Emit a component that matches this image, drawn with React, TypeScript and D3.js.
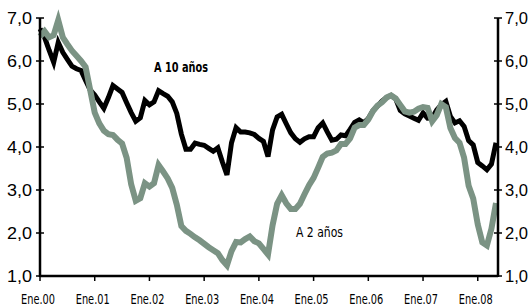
import React from "react";
import * as d3 from "d3";

const tenYear = [
  6.75, 6.55, 6.25, 5.97, 6.43, 6.2, 6.04, 5.88, 5.82, 5.78,
  5.55, 5.33, 5.21, 5.05, 4.9, 5.15, 5.43, 5.35, 5.27, 5.03,
  4.8, 4.6, 4.68, 5.08, 4.98, 5.05, 5.31, 5.24, 5.18, 5.05,
  4.78, 4.3, 3.95, 3.95, 4.09, 4.06, 4.04, 3.97, 3.9, 3.98,
  3.65, 3.35, 4.1, 4.45, 4.35, 4.35, 4.33, 4.29, 4.2, 4.13,
  3.78, 4.4, 4.7, 4.76, 4.54, 4.33, 4.19, 4.11, 4.19, 4.24,
  4.24, 4.45, 4.56, 4.35, 4.16, 4.18, 4.28, 4.26, 4.41, 4.57,
  4.63, 4.56, 4.66, 4.84, 4.95, 5.07, 5.15, 5.2, 5.12, 4.85,
  4.77, 4.72, 4.67, 4.62, 4.79, 4.67, 4.68, 4.86, 4.98, 5.06,
  4.71, 4.56, 4.61, 4.48, 4.15, 4.05, 3.64, 3.56, 3.47, 3.6,
  4.1,
];

const twoYear = [
  6.57, 6.69, 6.55, 6.6, 6.95, 6.55, 6.39, 6.24, 6.12, 6.0,
  5.86, 5.33, 4.8, 4.55, 4.38, 4.3, 4.28, 4.17, 4.08, 3.75,
  3.13, 2.75, 2.81, 3.16, 3.08, 3.16, 3.58, 3.43, 3.27, 3.05,
  2.66, 2.16, 2.05, 1.98, 1.9, 1.83, 1.75, 1.67, 1.6, 1.53,
  1.37, 1.25, 1.58, 1.79, 1.78, 1.86, 1.92, 1.81, 1.76, 1.63,
  1.5, 2.18, 2.68, 2.88, 2.69, 2.56, 2.56, 2.68, 2.9, 3.11,
  3.28, 3.52, 3.77, 3.85, 3.87, 3.92, 4.07, 4.07, 4.2, 4.45,
  4.51, 4.51, 4.64, 4.83, 4.96, 5.04, 5.15, 5.2, 5.13, 4.98,
  4.83, 4.8, 4.82, 4.89, 4.93, 4.91, 4.6, 4.74, 5.0, 4.93,
  4.44, 4.21, 4.1, 3.75, 3.1, 2.8, 2.2, 1.78, 1.71, 2.1,
  2.7,
];

const xTickLabels = ["Ene.00", "Ene.01", "Ene.02", "Ene.03", "Ene.04", "Ene.05", "Ene.06", "Ene.07", "Ene.08"];
const yTicks = [1, 2, 3, 4, 5, 6, 7];
const yTickLabels = ["1,0", "2,0", "3,0", "4,0", "5,0", "6,0", "7,0"];
const seriesLabels = ["A 10 años", "A 2 años"];

const W = 530;
const H = 308;
const LEFT = 40;
const RIGHT = 498;
const TOP = 18;
const BOTTOM = 276;

export default function App() {
  const x = d3.scaleLinear().domain([0, 100]).range([LEFT, 496]);
  const y = d3.scaleLinear().domain([1, 7]).range([BOTTOM, TOP]);
  const line = d3
    .line<number>()
    .x((_, i) => x(i))
    .y((d) => y(d));

  const labelFont = "'Liberation Sans', Arial, sans-serif";
  const narrowFont = "'Liberation Sans Narrow', 'DejaVu Sans Condensed', 'Liberation Sans', sans-serif";

  return (
    <svg
      width={W}
      height={H}
      style={{ position: "absolute", left: 0, top: 0, background: "#fff" }}
    >
      {/* series */}
      <path d={line(tenYear) || ""} fill="none" stroke="#000" strokeWidth={5} strokeLinejoin="miter" strokeMiterlimit={4} />
      <path d={line(twoYear) || ""} fill="none" stroke="#7b9384" strokeWidth={6} strokeLinejoin="miter" strokeMiterlimit={4} />

      {/* axes */}
      <line x1={LEFT} x2={LEFT} y1={TOP} y2={BOTTOM + 1} stroke="#000" strokeWidth={2.5} />
      <line x1={RIGHT} x2={RIGHT} y1={TOP} y2={BOTTOM + 1} stroke="#000" strokeWidth={2.5} />
      <line x1={LEFT} x2={RIGHT} y1={BOTTOM} y2={BOTTOM} stroke="#000" strokeWidth={2.5} />

      {yTicks.map((t, i) => (
        <g key={"yt" + t}>
          <line x1={LEFT - 4} x2={LEFT + 4} y1={y(t)} y2={y(t)} stroke="#000" strokeWidth={1.5} />
          <line x1={RIGHT - 4} x2={RIGHT + 4} y1={y(t)} y2={y(t)} stroke="#000" strokeWidth={1.5} />
          <text
            x={32}
            y={y(t)}
            dy="0.36em"
            textAnchor="end"
            fontFamily={labelFont}
            fontSize={16.5}
            textLength={25}
            lengthAdjust="spacingAndGlyphs"
            fill="#000"
          >
            {yTickLabels[i]}
          </text>
          <text
            x={505}
            y={y(t)}
            dy="0.36em"
            textAnchor="start"
            fontFamily={labelFont}
            fontSize={16.5}
            textLength={23}
            lengthAdjust="spacingAndGlyphs"
            fill="#000"
          >
            {yTickLabels[i]}
          </text>
        </g>
      ))}

      {xTickLabels.map((lab, i) => {
        const xx = x(i * 12);
        return (
          <g key={lab}>
            <line x1={xx} x2={xx} y1={BOTTOM} y2={BOTTOM + 5} stroke="#000" strokeWidth={1.5} />
            <text
              x={xx - 2}
              y={304}
              textAnchor="middle"
              fontFamily={narrowFont}
              fontSize={14}
              textLength={34}
              lengthAdjust="spacingAndGlyphs"
              fill="#000"
            >
              {lab}
            </text>
          </g>
        );
      })}

      <text
        x={154}
        y={72}
        fontFamily={narrowFont}
        fontWeight="bold"
        fontSize={13.5}
        textLength={54}
        lengthAdjust="spacingAndGlyphs"
        fill="#000"
      >
        {seriesLabels[0]}
      </text>
      <text
        x={296}
        y={237}
        fontFamily={narrowFont}
        fontSize={14}
        textLength={47}
        lengthAdjust="spacingAndGlyphs"
        fill="#000"
      >
        {seriesLabels[1]}
      </text>
    </svg>
  );
}
